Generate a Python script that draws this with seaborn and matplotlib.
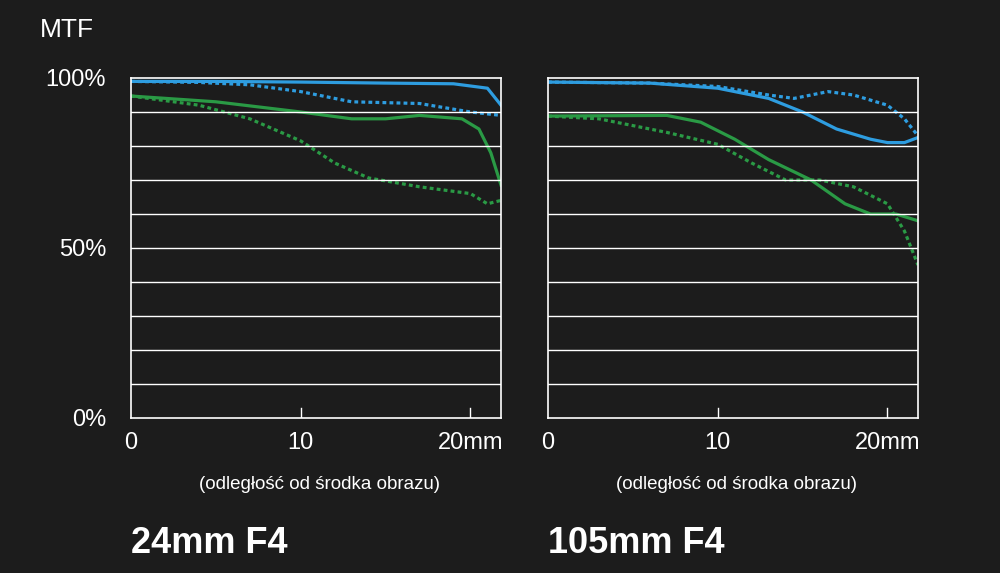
import matplotlib
matplotlib.use("Agg")
import matplotlib.pyplot as plt
import seaborn as sns
import pandas as pd

plt.rcParams["font.family"] = "Liberation Sans"

# left chart: 24mm F4
l_blue_solid_x = [0, 5, 10, 15, 19, 21, 21.8]
l_blue_solid_y = [99, 99, 98.8, 98.5, 98.3, 97, 92]
l_blue_dot_x = [0, 4, 7, 10, 13, 17, 20, 21.8]
l_blue_dot_y = [99, 98.7, 98, 96, 93, 92.5, 90, 89]
l_green_solid_x = [0, 5, 10, 13, 15, 17, 19.5, 20.5, 21.2, 21.8]
l_green_solid_y = [94.7, 93, 90, 88, 88, 89, 88, 85, 78, 68.5]
l_green_dot_x = [0, 4, 7, 10, 12, 14, 17, 20, 21, 21.8]
l_green_dot_y = [94.7, 92, 88, 81.5, 75, 70.6, 68, 66, 63, 64]

# right chart: 105mm F4
r_blue_solid_x = [0, 6, 10, 13, 15, 17, 19, 20, 21, 21.8]
r_blue_solid_y = [98.8, 98.5, 97, 94, 90, 85, 82, 81, 81, 82.5]
r_blue_dot_x = [0, 6, 10, 13, 14.5, 16.5, 18, 20, 21, 21.8]
r_blue_dot_y = [98.8, 98.5, 97.5, 95, 94, 96, 95, 92, 88, 83]
r_green_solid_x = [0, 7, 9, 11, 13, 15.5, 17.5, 19, 20.5, 21.8]
r_green_solid_y = [88.8, 89, 87, 82, 76, 70, 63, 60, 60, 58]
r_green_dot_x = [0, 3, 7, 10, 12, 14, 16, 18, 20, 21, 21.8]
r_green_dot_y = [88.8, 88, 84, 80.5, 75, 70, 70, 68, 63, 55, 45]

BG = "#1c1c1c"
BLUE = "#2e9de0"
GREEN = "#2a9a45"
DOTS = (0, (1.2, 1.0))

fig = plt.figure(figsize=(10, 5.73), dpi=100, facecolor=BG)
panels = [
    (0.131, "24mm F4", [(l_blue_solid_x, l_blue_solid_y, BLUE, "-"), (l_blue_dot_x, l_blue_dot_y, BLUE, DOTS),
                        (l_green_solid_x, l_green_solid_y, GREEN, "-"), (l_green_dot_x, l_green_dot_y, GREEN, DOTS)]),
    (0.548, "105mm F4", [(r_blue_solid_x, r_blue_solid_y, BLUE, "-"), (r_blue_dot_x, r_blue_dot_y, BLUE, DOTS),
                         (r_green_solid_x, r_green_solid_y, GREEN, "-"), (r_green_dot_x, r_green_dot_y, GREEN, DOTS)]),
]
for i, (left, title, lines) in enumerate(panels):
    ax = fig.add_axes([left, 1 - 418 / 573, 0.37, 340 / 573], facecolor=BG)
    for x, y, c, ls in lines:
        df = pd.DataFrame({"x": x, "y": y})
        sns.lineplot(data=df, x="x", y="y", ax=ax, color=c, linestyle=ls, linewidth=2.3)
    ax.set_xlim(0, 21.8)
    ax.set_ylim(0, 100)
    for v in range(10, 100, 10):
        ax.axhline(v, color="white", lw=1)
    for v in [10, 20]:
        ax.axvline(v, color="white", lw=1, ymax=0.03)
    for s in ax.spines.values():
        s.set_color("white")
        s.set_linewidth(1.2)
    ax.set_xticks([0, 10, 20])
    ax.set_xticklabels(["0", "10", "20mm"], color="white", fontsize=17)
    ax.tick_params(length=0, pad=10)
    if i == 0:
        ax.set_yticks([0, 50, 100])
        ax.set_yticklabels(["0%", "50%", "100%"], color="white", fontsize=17)
        ax.tick_params(axis="y", pad=18)
    else:
        ax.set_yticks([])
    ax.set_xlabel("(odległość od środka obrazu)", color="white", fontsize=13.5)
    ax.xaxis.set_label_coords(0.51, -0.17)
    ax.set_ylabel("")
    fig.text(left, 0.035, title, color="white", fontsize=26, fontweight="bold", ha="left")

fig.text(0.04, 0.935, "MTF", color="white", fontsize=19)
fig.savefig("out.png", facecolor=BG)
